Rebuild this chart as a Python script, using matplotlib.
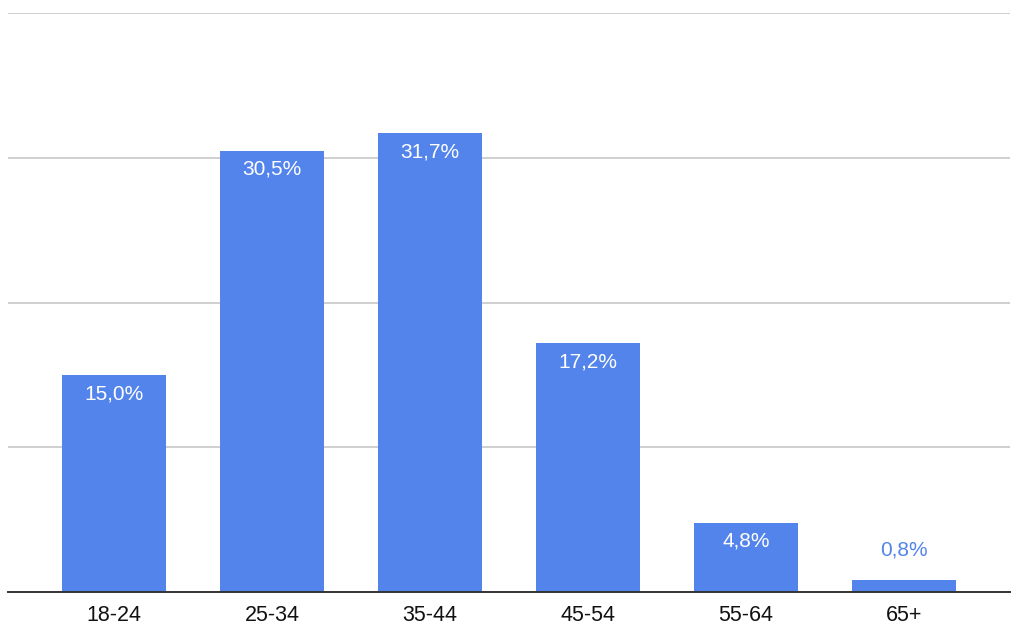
import matplotlib
matplotlib.use("Agg")
import matplotlib.pyplot as plt

categories = ["18-24", "25-34", "35-44", "45-54", "55-64", "65+"]
values = [15.0, 30.5, 31.7, 17.2, 4.8, 0.8]
labels = ["15,0%", "30,5%", "31,7%", "17,2%", "4,8%", "0,8%"]

BLUE = "#5384EC"
plt.rcParams['font.family'] = ['Liberation Sans', 'DejaVu Sans']

fig = plt.figure(figsize=(10.24, 6.43), dpi=100)
W, H = 1024, 643
ax = fig.add_axes([8 / W, (H - 592) / H, (1010 - 8) / W, (592 - 13) / H])

x = list(range(len(categories)))
bars = ax.bar(x, values, width=0.655, color=BLUE, zorder=3, linewidth=0)

ax.set_xlim(-0.67, len(categories) - 1 + 0.67)
ax.set_ylim(0, 40)
ax.set_yticks([10, 20, 30, 40])
ax.yaxis.grid(True, color="#cccccc", linewidth=1.3, zorder=0)
ax.tick_params(axis="y", left=False, labelleft=False)
ax.tick_params(axis="x", bottom=False, labelsize=15.5, colors="#111111", pad=6)
ax.set_xticks(x)
ax.set_xticklabels(categories)
for s in ["top", "right", "left"]:
    ax.spines[s].set_visible(False)
ax.spines["bottom"].set_color("#333333")
ax.spines["bottom"].set_linewidth(1.4)
ax.spines["bottom"].set_zorder(4)

for xi, v, lab in zip(x, values, labels):
    if v > 3:
        ax.annotate(lab, (xi, v), xytext=(0, -13.5), textcoords="offset points",
                    ha="center", va="center", color="white", fontsize=15, zorder=5)
    else:
        ax.annotate(lab, (xi, v), xytext=(0, 22), textcoords="offset points",
                    ha="center", va="center", color=BLUE, fontsize=15, zorder=5)

fig.savefig("out.png", dpi=100)
